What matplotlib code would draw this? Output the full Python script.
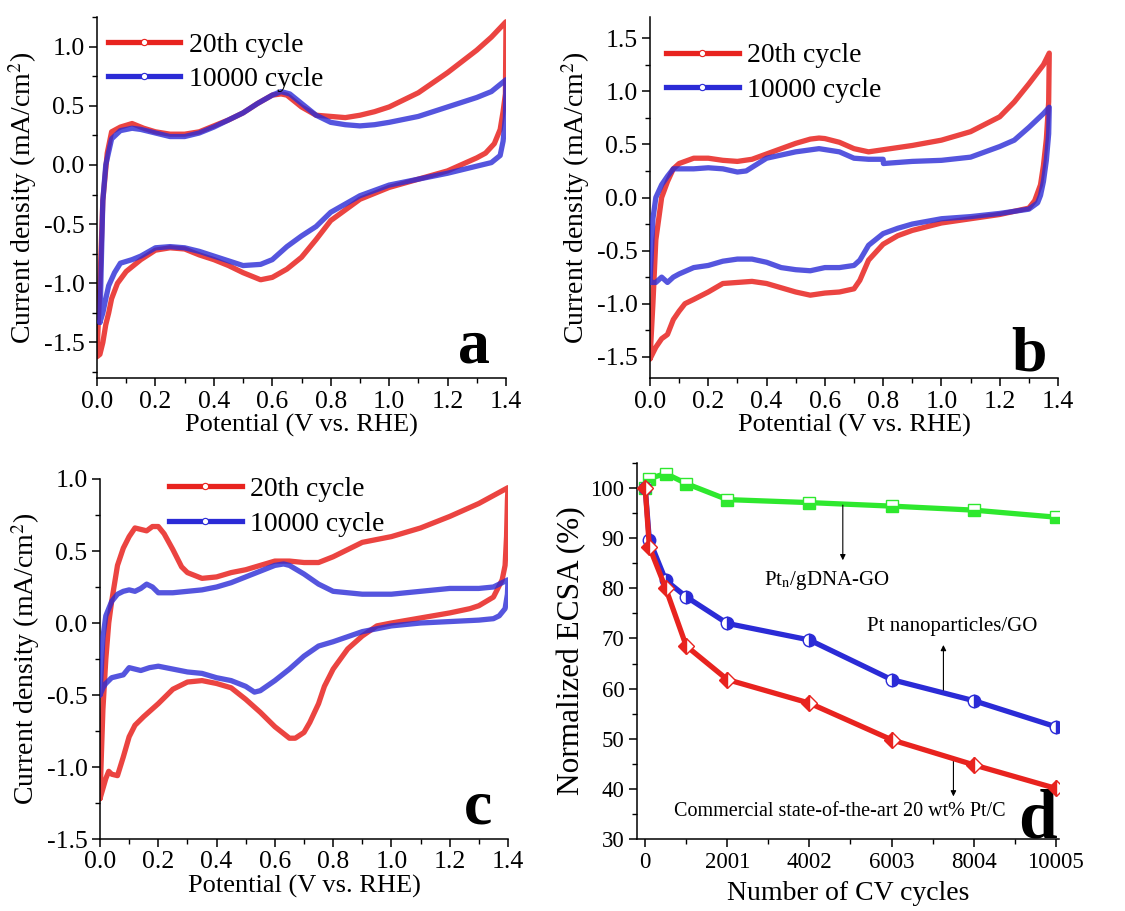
import matplotlib
matplotlib.use("Agg")
import matplotlib.pyplot as plt
from matplotlib.lines import Line2D
from matplotlib.ticker import MultipleLocator, FixedLocator

plt.rcParams['font.family'] = ['Liberation Serif', 'DejaVu Serif']
plt.rcParams['mathtext.fontset'] = 'stix'
plt.rcParams['axes.unicode_minus'] = False

# ---------------- Panel a data ----------------
a_red_anod_V = [0.0, 0.01, 0.02, 0.035, 0.05, 0.08, 0.12, 0.16, 0.2, 0.25, 0.3, 0.35, 0.4, 0.45, 0.5, 0.55, 0.6, 0.63, 0.65, 0.7, 0.75, 0.8, 0.85, 0.9, 0.95, 1.0, 1.1, 1.2, 1.3, 1.35, 1.4]
a_red_anod_j = [-1.6, -1.0, -0.3, 0.1, 0.28, 0.32, 0.35, 0.31, 0.28, 0.26, 0.26, 0.28, 0.33, 0.38, 0.44, 0.52, 0.59, 0.60, 0.59, 0.49, 0.42, 0.41, 0.40, 0.42, 0.45, 0.49, 0.61, 0.78, 0.97, 1.08, 1.21]
a_red_cath_V = [1.4, 1.398, 1.39, 1.38, 1.36, 1.33, 1.3, 1.2, 1.1, 1.0, 0.95, 0.9, 0.85, 0.8, 0.75, 0.7, 0.65, 0.6, 0.56, 0.5, 0.45, 0.4, 0.35, 0.3, 0.25, 0.2, 0.15, 0.1, 0.07, 0.05, 0.04, 0.03, 0.02, 0.01, 0.0]
a_red_cath_j = [1.21, 0.6, 0.45, 0.3, 0.18, 0.1, 0.06, -0.05, -0.12, -0.19, -0.24, -0.29, -0.38, -0.47, -0.63, -0.78, -0.88, -0.95, -0.97, -0.91, -0.85, -0.80, -0.76, -0.71, -0.70, -0.72, -0.80, -0.90, -1.0, -1.13, -1.25, -1.35, -1.5, -1.6, -1.62]
a_blue_anod_V = [0.01, 0.015, 0.02, 0.03, 0.05, 0.08, 0.12, 0.15, 0.2, 0.25, 0.3, 0.35, 0.4, 0.45, 0.5, 0.55, 0.6, 0.63, 0.66, 0.7, 0.75, 0.8, 0.85, 0.9, 0.95, 1.0, 1.1, 1.2, 1.3, 1.35, 1.4]
a_blue_anod_j = [-1.33, -0.8, -0.3, 0.0, 0.22, 0.29, 0.31, 0.30, 0.27, 0.24, 0.24, 0.27, 0.32, 0.38, 0.44, 0.52, 0.59, 0.62, 0.60, 0.52, 0.42, 0.36, 0.34, 0.33, 0.34, 0.36, 0.41, 0.49, 0.57, 0.62, 0.72]
a_blue_cath_V = [1.4, 1.398, 1.39, 1.38, 1.35, 1.3, 1.2, 1.1, 1.0, 0.9, 0.8, 0.75, 0.7, 0.65, 0.6, 0.56, 0.5, 0.45, 0.4, 0.35, 0.3, 0.25, 0.2, 0.15, 0.12, 0.08, 0.06, 0.04, 0.03, 0.02, 0.01]
a_blue_cath_j = [0.72, 0.4, 0.2, 0.08, 0.02, -0.01, -0.07, -0.12, -0.17, -0.26, -0.40, -0.52, -0.60, -0.69, -0.80, -0.84, -0.85, -0.81, -0.77, -0.73, -0.70, -0.69, -0.70, -0.77, -0.80, -0.83, -0.91, -1.02, -1.13, -1.25, -1.33]

# ---------------- Panel b data ----------------
b_red_anod_V = [0.0, 0.01, 0.02, 0.04, 0.06, 0.08, 0.1, 0.15, 0.2, 0.25, 0.3, 0.35, 0.4, 0.45, 0.5, 0.55, 0.58, 0.6, 0.65, 0.7, 0.75, 0.8, 0.9, 1.0, 1.1, 1.2, 1.25, 1.3, 1.35, 1.37]
b_red_anod_j = [-1.52, -1.0, -0.4, 0.0, 0.15, 0.27, 0.32, 0.37, 0.37, 0.35, 0.34, 0.36, 0.41, 0.46, 0.51, 0.55, 0.56, 0.555, 0.52, 0.46, 0.43, 0.45, 0.49, 0.54, 0.62, 0.76, 0.9, 1.07, 1.25, 1.36]
b_red_cath_V = [1.37, 1.368, 1.36, 1.35, 1.34, 1.32, 1.3, 1.25, 1.2, 1.1, 1.0, 0.9, 0.85, 0.8, 0.75, 0.72, 0.7, 0.65, 0.6, 0.55, 0.5, 0.45, 0.4, 0.35, 0.3, 0.25, 0.2, 0.15, 0.12, 0.1, 0.08, 0.06, 0.04, 0.02, 0.0]
b_red_cath_j = [1.36, 0.9, 0.55, 0.3, 0.12, -0.03, -0.1, -0.13, -0.16, -0.20, -0.24, -0.31, -0.36, -0.44, -0.59, -0.78, -0.86, -0.89, -0.90, -0.92, -0.89, -0.85, -0.81, -0.79, -0.80, -0.81, -0.89, -0.96, -1.0, -1.07, -1.15, -1.29, -1.33, -1.41, -1.52]
b_blue_anod_V = [0.0, 0.005, 0.01, 0.02, 0.04, 0.06, 0.08, 0.1, 0.15, 0.2, 0.25, 0.3, 0.33, 0.4, 0.5, 0.58, 0.65, 0.7, 0.75, 0.8, 0.801, 0.9, 1.0, 1.1, 1.2, 1.25, 1.3, 1.35, 1.37]
b_blue_anod_j = [-0.8, -0.5, -0.2, 0.0, 0.12, 0.2, 0.27, 0.27, 0.27, 0.28, 0.27, 0.24, 0.25, 0.37, 0.43, 0.46, 0.43, 0.37, 0.36, 0.36, 0.32, 0.34, 0.35, 0.38, 0.48, 0.54, 0.66, 0.79, 0.85]
b_blue_cath_V = [1.37, 1.368, 1.36, 1.35, 1.34, 1.33, 1.3, 1.25, 1.2, 1.1, 1.0, 0.9, 0.85, 0.8, 0.75, 0.72, 0.7, 0.65, 0.6, 0.55, 0.5, 0.45, 0.4, 0.35, 0.3, 0.25, 0.2, 0.15, 0.1, 0.08, 0.06, 0.04, 0.02, 0.0]
b_blue_cath_j = [0.85, 0.6, 0.35, 0.15, 0.02, -0.05, -0.11, -0.13, -0.15, -0.18, -0.20, -0.25, -0.29, -0.34, -0.45, -0.59, -0.64, -0.66, -0.66, -0.69, -0.68, -0.66, -0.61, -0.58, -0.58, -0.60, -0.64, -0.66, -0.72, -0.75, -0.80, -0.75, -0.80, -0.8]

# ---------------- Panel c data ----------------
c_red_anod_V = [0.0, 0.005, 0.01, 0.02, 0.03, 0.04, 0.06, 0.08, 0.1, 0.12, 0.14, 0.16, 0.18, 0.2, 0.22, 0.25, 0.28, 0.3, 0.35, 0.4, 0.45, 0.5, 0.55, 0.6, 0.65, 0.7, 0.75, 0.8, 0.85, 0.9, 1.0, 1.1, 1.2, 1.3, 1.4]
c_red_anod_j = [-1.22, -0.9, -0.6, -0.25, 0.0, 0.15, 0.4, 0.52, 0.6, 0.66, 0.65, 0.64, 0.67, 0.67, 0.62, 0.51, 0.39, 0.35, 0.31, 0.32, 0.35, 0.37, 0.40, 0.43, 0.43, 0.42, 0.42, 0.46, 0.51, 0.56, 0.60, 0.66, 0.74, 0.83, 0.94]
c_red_cath_V = [1.4, 1.398, 1.395, 1.39, 1.38, 1.35, 1.3, 1.27, 1.2, 1.1, 1.0, 0.95, 0.9, 0.85, 0.8, 0.77, 0.75, 0.72, 0.7, 0.67, 0.65, 0.6, 0.55, 0.5, 0.45, 0.4, 0.35, 0.3, 0.25, 0.2, 0.15, 0.12, 0.1, 0.08, 0.06, 0.04, 0.03, 0.02, 0.01, 0.0]
c_red_cath_j = [0.94, 0.85, 0.6, 0.4, 0.3, 0.18, 0.12, 0.1, 0.07, 0.035, 0.0, -0.02, -0.09, -0.18, -0.32, -0.44, -0.56, -0.69, -0.76, -0.80, -0.80, -0.72, -0.62, -0.53, -0.45, -0.42, -0.40, -0.41, -0.46, -0.56, -0.65, -0.71, -0.79, -0.93, -1.06, -1.05, -1.03, -1.08, -1.15, -1.22]
c_blue_anod_V = [0.0, 0.005, 0.01, 0.02, 0.04, 0.06, 0.08, 0.1, 0.12, 0.14, 0.16, 0.18, 0.2, 0.25, 0.3, 0.35, 0.4, 0.45, 0.5, 0.55, 0.6, 0.63, 0.65, 0.7, 0.75, 0.8, 0.9, 1.0, 1.1, 1.2, 1.3, 1.35, 1.4]
c_blue_anod_j = [-0.5, -0.3, -0.1, 0.05, 0.15, 0.2, 0.22, 0.23, 0.22, 0.24, 0.27, 0.25, 0.21, 0.21, 0.22, 0.23, 0.25, 0.28, 0.32, 0.36, 0.40, 0.41, 0.40, 0.34, 0.27, 0.22, 0.20, 0.20, 0.22, 0.24, 0.24, 0.25, 0.30]
c_blue_cath_V = [1.4, 1.398, 1.39, 1.37, 1.35, 1.3, 1.2, 1.1, 1.0, 0.9, 0.8, 0.75, 0.7, 0.65, 0.6, 0.55, 0.53, 0.5, 0.45, 0.4, 0.35, 0.3, 0.25, 0.2, 0.17, 0.14, 0.12, 0.1, 0.08, 0.06, 0.04, 0.02, 0.01, 0.0]
c_blue_cath_j = [0.30, 0.2, 0.1, 0.05, 0.03, 0.02, 0.01, 0.0, -0.02, -0.06, -0.13, -0.16, -0.23, -0.32, -0.40, -0.47, -0.48, -0.44, -0.40, -0.38, -0.35, -0.34, -0.32, -0.30, -0.31, -0.33, -0.32, -0.31, -0.36, -0.37, -0.38, -0.42, -0.45, -0.5]

# ---------------- Panel d data ----------------
cycles = [0, 100, 500, 1000, 2001, 4002, 6003, 8004, 10005]
ecsa_ptn_gdna = [100, 101.9, 102.9, 100.9, 97.7, 97.1, 96.4, 95.6, 94.2]
ecsa_pt_go = [100, 89.7, 81.6, 78.3, 73.0, 69.7, 61.8, 57.6, 52.4]
ecsa_pt_c = [100, 88.3, 80.0, 68.5, 61.8, 57.1, 49.8, 44.8, 40.1]
cycle_ticks = [0, 2001, 4002, 6003, 8004, 10005]

legend_labels = ['20th cycle', '10000 cycle']

RED = '#e8231f'
BLUE = '#2b2bd6'
GREEN = '#2ee82e'

W, H = 1125, 911
fig = plt.figure(figsize=(W / 100, H / 100), dpi=100)


def px_axes(l, t, r, b):
    return fig.add_axes([l / W, 1 - b / H, (r - l) / W, (b - t) / H])


def style_axes(ax, fs):
    for s in ('top', 'right'):
        ax.spines[s].set_visible(False)
    for s in ('left', 'bottom'):
        ax.spines[s].set_linewidth(1.1)
    ax.tick_params(which='major', direction='out', length=6, width=1.1, labelsize=fs, pad=3)
    ax.tick_params(which='minor', direction='out', length=3.5, width=1.0)


def cv_panel(ax, ylim, leg_anchor, letter, letter_pos, data):
    (rV1, rj1, rV2, rj2, bV1, bj1, bV2, bj2) = data
    ax.plot(rV1 + rV2, rj1 + rj2, color=RED, lw=3.8, alpha=0.85,
            solid_joinstyle='round', solid_capstyle='round', zorder=2)
    ax.plot(bV1 + bV2, bj1 + bj2, color=BLUE, lw=3.8, alpha=0.8,
            solid_joinstyle='round', solid_capstyle='round', zorder=3)
    ax.set_xlim(0, 1.4)
    ax.set_ylim(*ylim)
    ax.xaxis.set_major_locator(MultipleLocator(0.2))
    ax.xaxis.set_minor_locator(MultipleLocator(0.1))
    ax.yaxis.set_major_locator(MultipleLocator(0.5))
    ax.yaxis.set_minor_locator(MultipleLocator(0.25))
    ax.xaxis.set_major_formatter(matplotlib.ticker.FormatStrFormatter('%.1f'))
    ax.yaxis.set_major_formatter(matplotlib.ticker.FormatStrFormatter('%.1f'))
    style_axes(ax, 18.5)
    ax.set_xlabel('Potential (V vs. RHE)', fontsize=19, labelpad=1)
    ax.set_ylabel('Current density (mA/cm$^2$)', fontsize=20, labelpad=3)
    handles = [Line2D([], [], color=RED, lw=3.8, marker='o', ms=4.5, mfc='white', mec=RED, mew=0.8),
               Line2D([], [], color=BLUE, lw=3.8, marker='o', ms=4.5, mfc='white', mec=BLUE, mew=0.8)]
    ax.legend(handles, legend_labels, loc='upper left', bbox_to_anchor=leg_anchor,
              frameon=False, fontsize=20, handlelength=2.6, handletextpad=0.3,
              labelspacing=0.33, borderaxespad=0, borderpad=0, numpoints=1)
    ax.text(letter_pos[0], letter_pos[1], letter, transform=ax.transAxes,
            fontsize=46, fontweight='bold', ha='right', va='baseline')


ax_a = px_axes(97, 17, 506, 378)
cv_panel(ax_a, (-1.8, 1.25), (0.027, 0.958), 'a', (0.961, 0.044),
         (a_red_anod_V, a_red_anod_j, a_red_cath_V, a_red_cath_j,
          a_blue_anod_V, a_blue_anod_j, a_blue_cath_V, a_blue_cath_j))

ax_b = px_axes(650, 17, 1058, 378)
cv_panel(ax_b, (-1.7, 1.7), (0.04, 0.928), 'b', (0.973, 0.02),
         (b_red_anod_V, b_red_anod_j, b_red_cath_V, b_red_cath_j,
          b_blue_anod_V, b_blue_anod_j, b_blue_cath_V, b_blue_cath_j))

ax_c = px_axes(100, 479, 508, 839)
cv_panel(ax_c, (-1.5, 1.0), (0.17, 1.007), 'c', (0.961, 0.044),
         (c_red_anod_V, c_red_anod_j, c_red_cath_V, c_red_cath_j,
          c_blue_anod_V, c_blue_anod_j, c_blue_cath_V, c_blue_cath_j))

# ---------------- Panel d ----------------
ax_d = px_axes(637, 463, 1059, 839)
ax_d.plot(cycles, ecsa_ptn_gdna, color=GREEN, lw=3.8, marker='s', ms=8,
          fillstyle='bottom', mfc=GREEN, mfcalt='white', mec=GREEN, mew=1.0, zorder=2)
ax_d.plot(cycles, ecsa_pt_go, color=BLUE, lw=3.8, marker='o', ms=9,
          fillstyle='right', mfc=BLUE, mfcalt='white', mec=BLUE, mew=1.0, zorder=3)
ax_d.plot(cycles, ecsa_pt_c, color=RED, lw=3.8, marker='D', ms=8,
          fillstyle='left', mfc=RED, mfcalt='white', mec=RED, mew=1.0, zorder=4)
ax_d.set_xlim(-200, 10085)
ax_d.set_ylim(30, 105)
ax_d.xaxis.set_major_locator(FixedLocator(cycle_ticks))
ax_d.xaxis.set_minor_locator(FixedLocator([t + 1000.5 for t in cycle_ticks[:-1]]))
ax_d.set_xticklabels([str(t) for t in cycle_ticks])
ax_d.yaxis.set_major_locator(MultipleLocator(10))
ax_d.yaxis.set_minor_locator(MultipleLocator(5))
style_axes(ax_d, 16.5)
ax_d.set_xlabel('Number of CV cycles', fontsize=20, labelpad=6)
ax_d.set_ylabel('Normalized ECSA (%)', fontsize=22.5, labelpad=3)

arrow = dict(arrowstyle='-|>', color='black', lw=0.8, mutation_scale=8, shrinkA=0, shrinkB=0)
ax_d.annotate('', xy=(4816, 85.6), xytext=(4816, 96.6), arrowprops=arrow)
ax_d.annotate('', xy=(7268, 68.7), xytext=(7268, 59.7), arrowprops=arrow)
ax_d.annotate('', xy=(7512, 38.5), xytext=(7512, 46.1), arrowprops=arrow)
ax_d.text(2900, 81.6, r'Pt$_\mathrm{n}$/gDNA-GO', fontsize=15, ha='left', va='center')
ax_d.text(5400, 72.3, 'Pt nanoparticles/GO', fontsize=15, ha='left', va='center')
ax_d.text(700, 35.5, 'Commercial state-of-the-art 20 wt% Pt/C', fontsize=14.5, ha='left', va='center')
ax_d.text(0.995, 0.005, 'd', transform=ax_d.transAxes, fontsize=50, fontweight='bold',
          ha='right', va='baseline')

fig.savefig('out.png', dpi=100)
